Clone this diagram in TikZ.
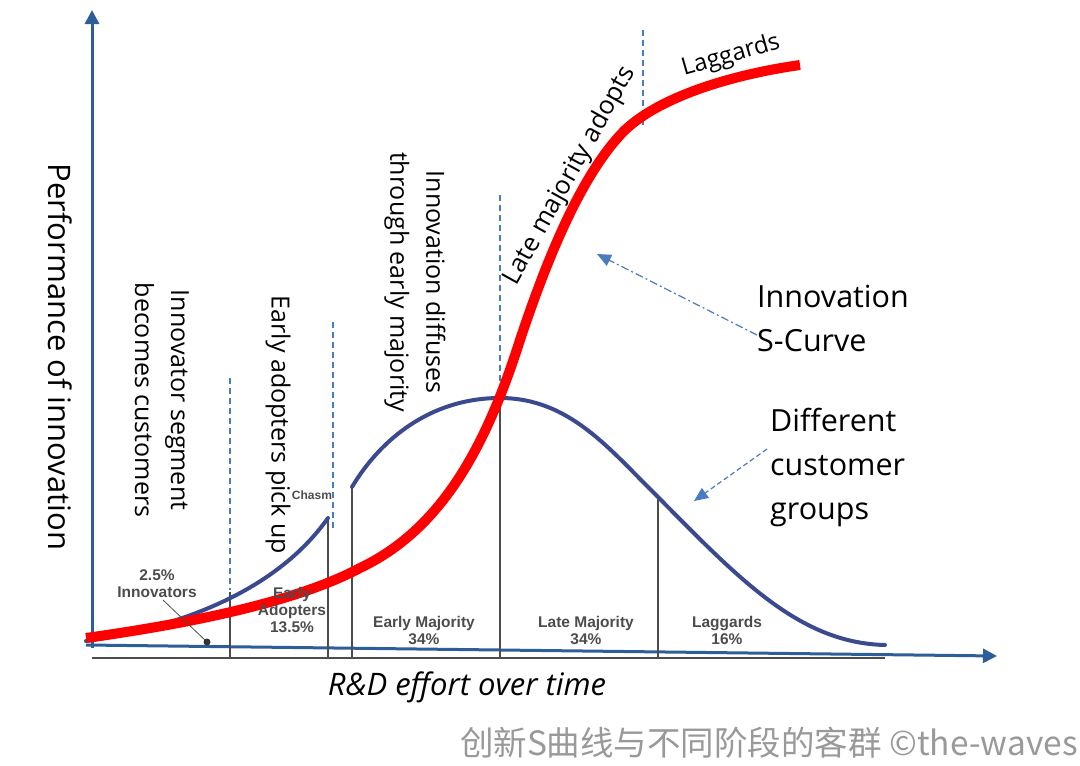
\documentclass[tikz,border=0pt]{standalone}
\usepackage{fontspec}
\setmainfont{Open Sans}
\newfontfamily\arialf{Liberation Sans}
\newfontfamily\cjk{Noto Sans CJK SC}
\usetikzlibrary{arrows.meta}
\begin{document}
\begin{tikzpicture}[x=1pt,y=-1pt,
  axis/.style={draw=axblue,line width=3pt,-{Triangle[length=14pt,width=14pt]}},
  sep/.style={draw=black!70,line width=1.2pt},
  dsh/.style={draw=dblue,dash pattern=on 6pt off 4pt,line width=1.3pt},
  lbl/.style={font=\arialf\bfseries\fontsize{15.5}{17}\selectfont,text=black!70,align=center,inner sep=0},
  big/.style={font=\fontsize{30.5}{44}\selectfont,align=left,inner sep=0},
  rot/.style={font=\fontsize{25}{36}\selectfont,align=center,rotate=-90,inner sep=0}]
\definecolor{axblue}{HTML}{2E5E9A}
\definecolor{bell}{HTML}{3B4A8E}
\definecolor{dblue}{HTML}{4A7CC0}
\useasboundingbox (0,0) rectangle (1080,766);
\coordinate (yb) at (92,648); \coordinate (yt) at (92,10);
\coordinate (xb) at (86,645); \coordinate (xt) at (997,656);
\draw[axis] (yb) -- (yt);
\draw[axis] (xb) -- (xt);
\coordinate (b1) at (92,658); \coordinate (b2) at (885,658);
\draw[black!70,line width=1.2pt] (b1) -- (b2);
% separators
\foreach \x/\t in {230/592,328/518,352/487,500/398,658/497}
  \draw[sep] (\x,\t) -- (\x,658);
% dashed guides
\draw[dsh] (230,378) -- (230,590);
\draw[dsh] (333,322) -- (333,530);
\draw[dsh] (500,195) -- (500,398);
\draw[dsh] (643,30) -- (643,125);
% bell curve
\draw[bell,line width=4pt,line cap=round] (86,641) .. controls (160,630) and (270,600) .. (328,518);
\draw[bell,line width=4pt,line cap=round] (352,487) .. controls (380,440) and (430,398) .. (500,398)
  .. controls (570,398) and (610,450) .. (658,497)
  .. controls (740,580) and (800,643) .. (885,645);
% red S curve
\draw[red,line width=10pt] (86,638) .. controls (200,622) and (300,600) .. (360,568)
  .. controls (440,530) and (485,450) .. (520,340)
  .. controls (545,265) and (580,175) .. (625,130)
  .. controls (660,97) and (730,75) .. (800,65);
% labels in bars
\node[lbl] (inn) at (157,584) {2.5\%\\Innovators};
\coordinate (dot) at (207,642);
\draw[black!70,line width=0.8pt] (163,600) -- (dot);
\fill[black!80] (dot) circle (3.5pt);
\node[lbl] (ea) at (292,610) {Early\\Adopters\\13.5\%};
\node[lbl] (em) at (424,630) {Early Majority\\34\%};
\node[lbl] (lm) at (586,630) {Late Majority\\34\%};
\node[lbl] (lg) at (727,630) {Laggards\\16\%};
\node[font=\arialf\bfseries\fontsize{12}{14}\selectfont,text=black!70,inner sep=0] (ch) at (312,495) {Chasm};
% rotated texts
\node[rot] (t1) at (162,400) {Innovator segment\\becomes customers};
\node[rot] (t2) at (278,425) {Early adopters pick up};
\node[rot] (t3) at (415,282) {Innovation diffuses\\through early majority};
\node[font=\fontsize{25.5}{30}\selectfont,rotate=61,inner sep=0] (t4) at (570,176) {Late majority adopts};
\node[font=\fontsize{24}{28}\selectfont,rotate=16,inner sep=0] (t5) at (731,56) {Laggards};
\node[font=\fontsize{31}{36}\selectfont,rotate=-90,inner sep=0] (py) at (60,357) {Performance of innovation};
\node[font=\itshape\fontsize{31}{36}\selectfont,inner sep=0] (rd) at (467,687) {R\&D effort over time};
% callouts
\node[big,anchor=north west] (sc) at (757,285) {Innovation\\S-Curve};
\node[big,anchor=north west] (dc) at (770,408) {Different\\customer\\groups};
\coordinate (a1s) at (757,335); \coordinate (a1e) at (597,254);
\coordinate (a2s) at (767,449); \coordinate (a2e) at (694,501);
\draw[dblue,dash pattern=on 8pt off 3pt on 2pt off 3pt,line width=1.2pt,-{Triangle[length=14pt,width=12pt]}] (a1s) -- (a1e);
\draw[dblue,dash pattern=on 5pt off 3pt,line width=1.2pt,-{Triangle[length=14pt,width=12pt]}] (a2s) -- (a2e);
\node[font=\cjk\fontsize{33.5}{38}\selectfont,text=black!40,anchor=east,inner sep=0] (wm) at (1078,743) {创新S曲线与不同阶段的客群 ©the-waves};
\end{tikzpicture}
\end{document}
